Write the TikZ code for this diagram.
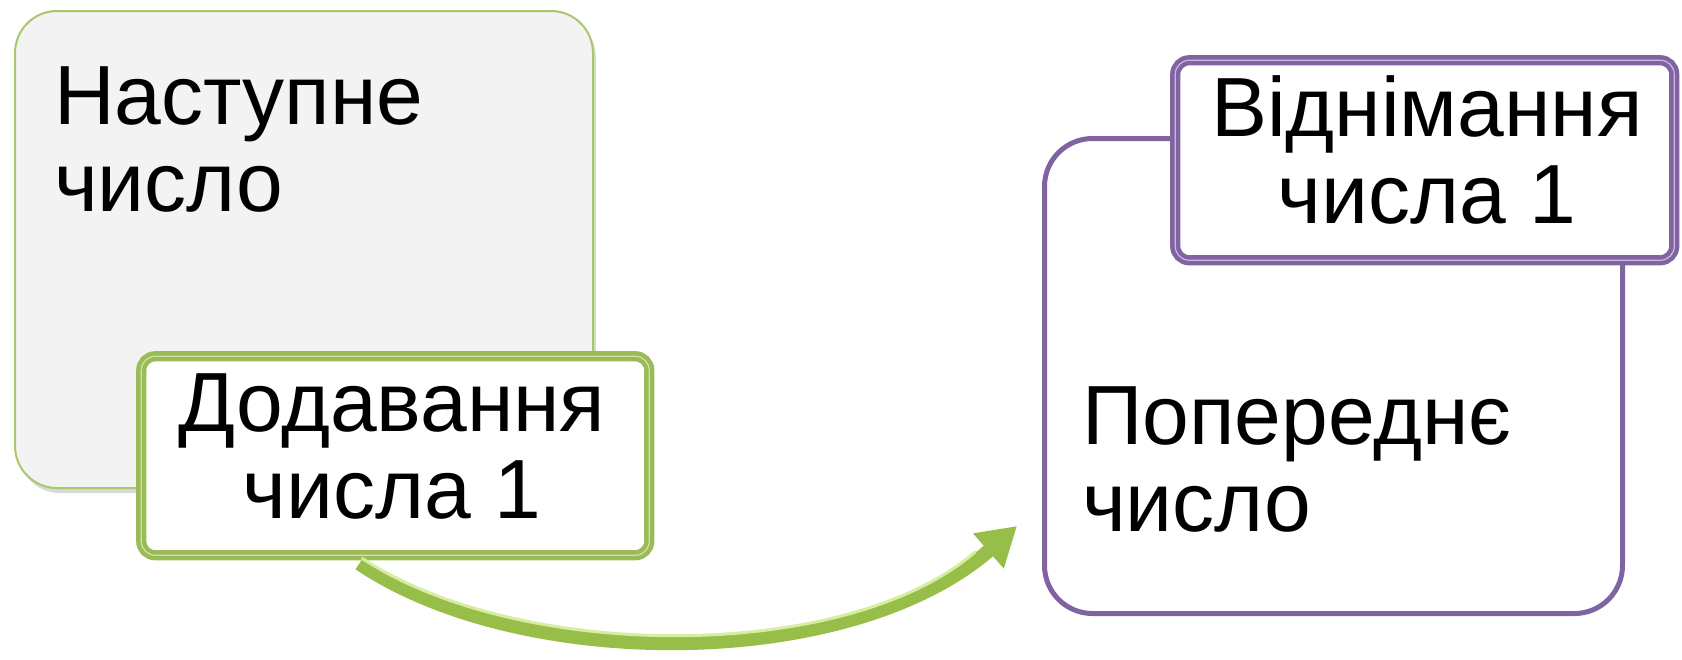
\documentclass[tikz,border=0pt]{standalone}
\usepackage{fontspec}
\setmainfont{Liberation Sans}
\usetikzlibrary{arrows.meta,shadows,calc}
\definecolor{gGreen}{HTML}{9BBB59}
\definecolor{gGreenLight}{HTML}{CFE2A6}
\definecolor{gGreenEdge}{HTML}{A9C86A}
\definecolor{gPurple}{HTML}{8064A2}
\definecolor{gPurpleLight}{HTML}{C9B8DC}
\definecolor{gGrey}{HTML}{F3F3F3}
\definecolor{arrowDark}{HTML}{96BE48}
\definecolor{arrowLight}{HTML}{D6EEA2}
\begin{document}
\begin{tikzpicture}[x=1pt,y=-1pt,
  bigfont/.style={font=\fontsize{84}{87}\selectfont},
  greybox/.style={draw=gGreenEdge, line width=2pt, fill=gGrey, rounded corners=42pt,
     anchor=north west, inner sep=0pt,
     drop shadow={opacity=0.3, shadow xshift=3pt, shadow yshift=-5pt}},
  greenbox/.style={draw=gGreen, line width=4.5pt, double=gGreenLight, double distance=1.2pt,
     fill=white, rounded corners=14pt, anchor=north west, inner sep=0pt,
     drop shadow={opacity=0.2, shadow xshift=2pt, shadow yshift=-3pt}},
  purplebig/.style={draw=gPurple, line width=5pt, fill=white, rounded corners=48pt,
     anchor=north west, inner sep=0pt},
  purplesmall/.style={draw=gPurple, line width=4.5pt, double=gPurpleLight, double distance=1.2pt,
     fill=white, rounded corners=14pt, anchor=north west, inner sep=0pt},
  lefttext/.style={bigfont, inner sep=0pt, align=left, anchor=base west},
  centretext/.style={bigfont, inner sep=0pt, align=center, anchor=base},
  bigarrow/.style={line width=14pt, draw=arrowDark, -{Triangle[length=38pt,width=44pt]}},
  arrowshine/.style={line width=3pt, draw=arrowLight, line cap=round}]
\useasboundingbox (0,0) rectangle (1682,659);

% left group
\node[greybox, minimum width=578pt, minimum height=477pt] (next) at (14,10) {};
\node[lefttext] (nexttext) at (54,211) {Наступне\\число};
\node[greenbox, minimum width=508pt, minimum height=199pt] (add) at (139,354) {};
\node[centretext] (addtext) at (392,518) {Додавання\\числа 1};

% right group
\node[purplebig, minimum width=578pt, minimum height=475pt] (prev) at (1042,136) {};
\node[lefttext] (prevtext) at (1082,531) {Попереднє\\число};
\node[purplesmall, minimum width=499pt, minimum height=200pt] (sub) at (1173,58) {};
\node[centretext] (subtext) at (1427,223) {Віднімання\\числа 1};

% curved arrow
\coordinate (astart) at ($(add.south west)!0.43!(add.south east)+(0,6)$);
\coordinate (aend) at (1017,526);
\draw[bigarrow] (astart) .. controls (520,672) and (850,672) .. (aend);
\draw[arrowshine] ($(astart)+(3,-5)$) .. controls (522,663) and (848,662) .. ($(aend)+(-42,26)$);
\end{tikzpicture}
\end{document}
